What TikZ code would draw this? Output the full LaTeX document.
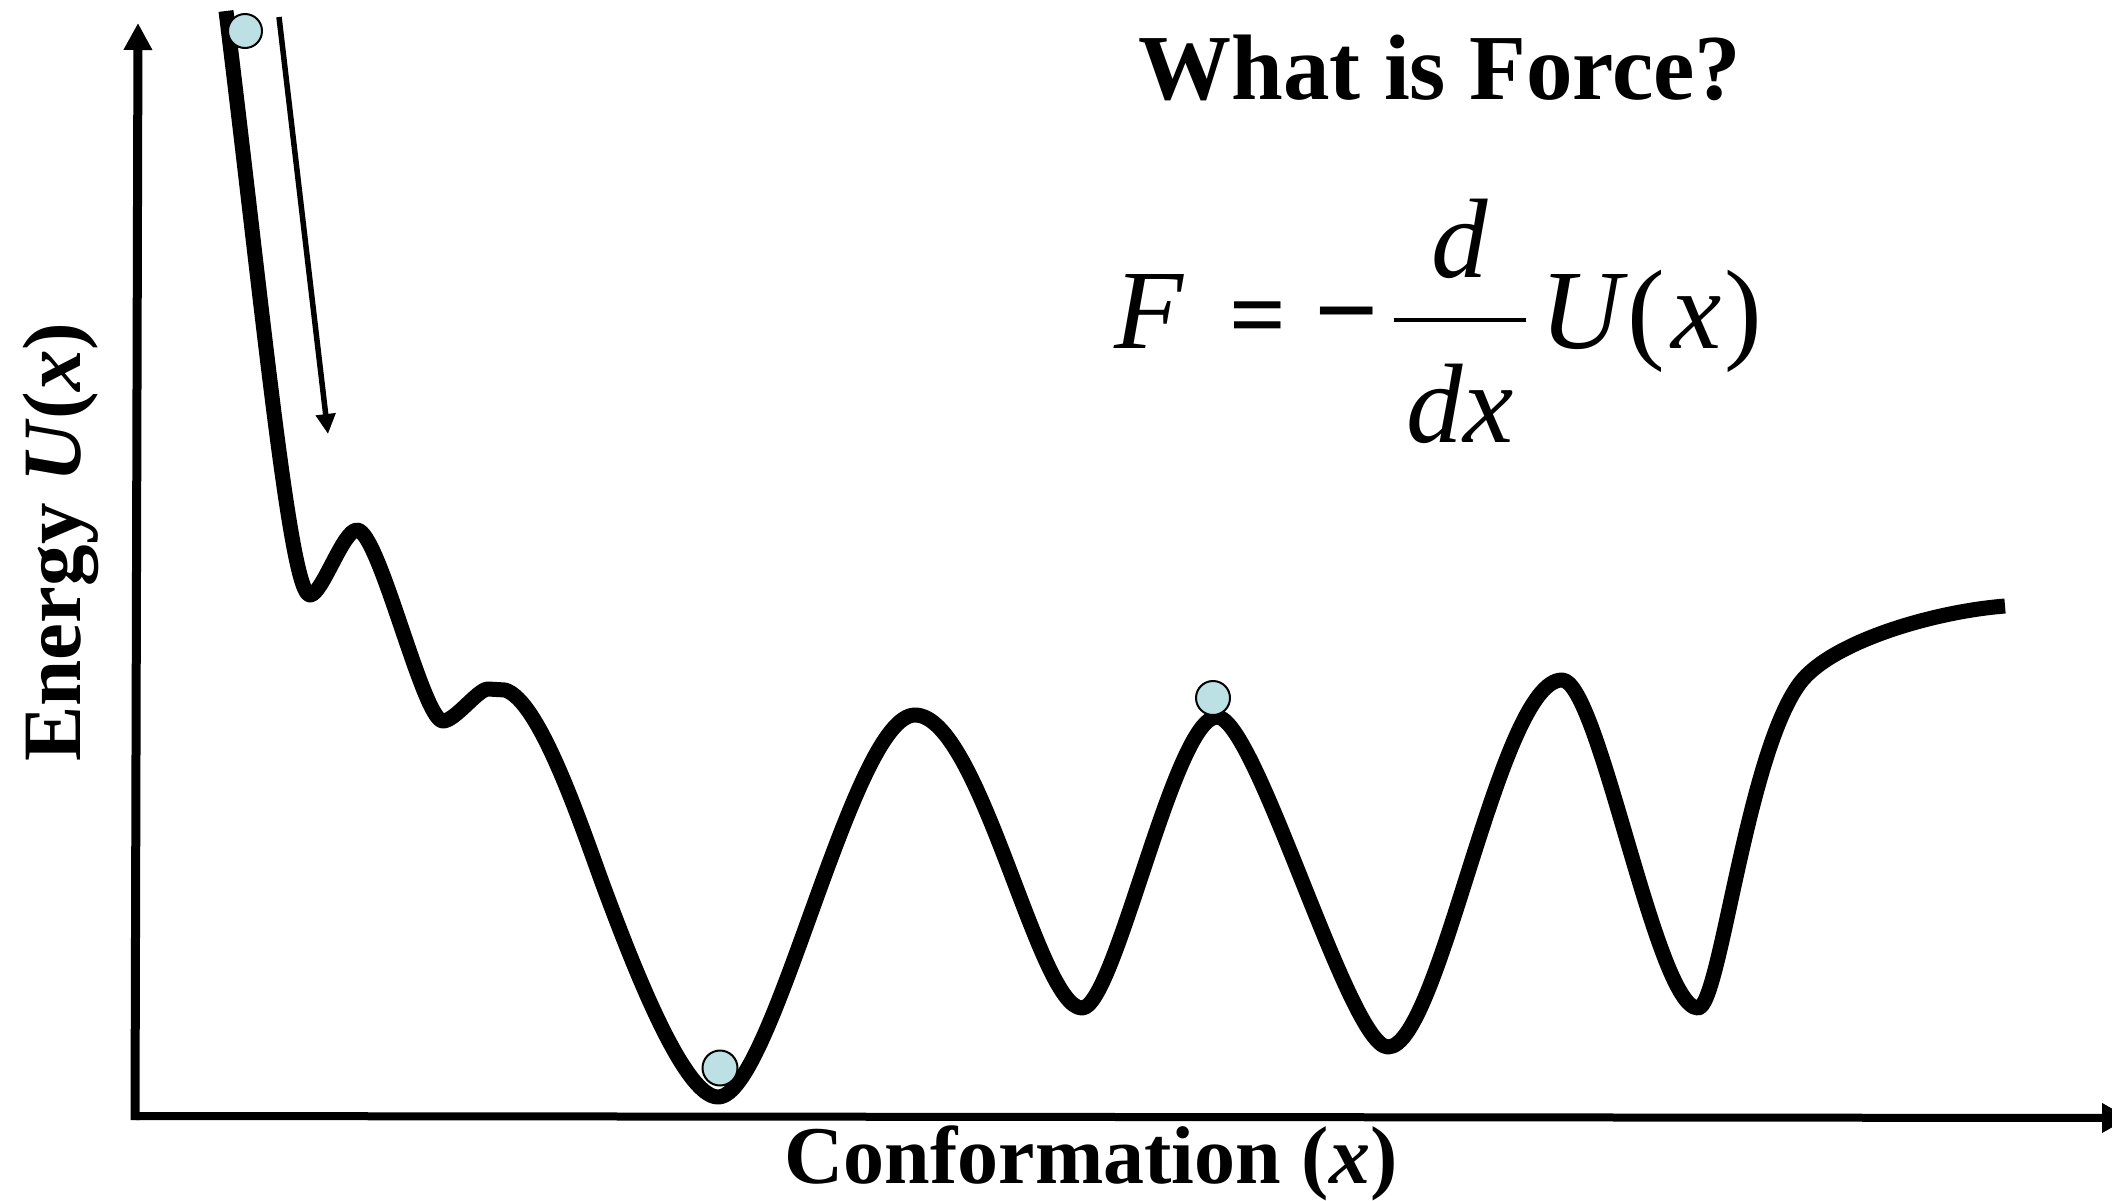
\documentclass[tikz,border=0pt]{standalone}
\usepackage{fontspec}
\setmainfont{Liberation Serif}
\usetikzlibrary{arrows.meta}
\definecolor{ballblue}{RGB}{188,224,227}
\newcommand\myfs[1]{\fontsize{#1pt}{#1pt}\selectfont}
\begin{document}
\begin{tikzpicture}[x=1pt,y=-1pt,
  lbl/.style={inner sep=0pt, outer sep=0pt},
  ball/.style={circle, draw=black, line width=2pt, fill=ballblue, inner sep=0pt, minimum size=34pt},
  curveline/.style={line width=15pt, line join=round}]
\useasboundingbox (0,0) rectangle (2112,1200);
\fill[white] (0,0) rectangle (2112,1200);

% axes
\coordinate (yo) at (135,1120);
\coordinate (ytop) at (138,23);
\coordinate (xo) at (136,1116);
\coordinate (xend) at (2129,1118);
\draw[line width=9pt, -{Triangle[width=27pt,length=27pt]}] (yo) -- (ytop);
\draw[line width=8pt, -{Triangle[width=28pt,length=27pt]}] (xo) -- (xend);

% energy curve
\draw[curveline] (226,11)
  .. controls (263,311) and (290,595) .. (310,595)
  .. controls (322,595) and (343,530) .. (357,530)
  .. controls (379,530) and (423,721) .. (443,721)
  .. controls (455,721) and (478,689) .. (488,689)
  -- (505,690)
  .. controls (539,700) and (579,819) .. (603,885)
  .. controls (631,960) and (683,1097) .. (718,1097)
  .. controls (773,1097) and (852,715) .. (915,715)
  .. controls (980,715) and (1038,1008) .. (1082,1008)
  .. controls (1115,1008) and (1174,717) .. (1217,717)
  .. controls (1256,717) and (1349,1047) .. (1388,1047)
  .. controls (1440,1047) and (1499,680) .. (1562,680)
  .. controls (1599,680) and (1656,1008) .. (1698,1008)
  .. controls (1720,1008) and (1746,755) .. (1800,683)
  .. controls (1830,643) and (1930,612) .. (2005,606);

% thin arrow
\coordinate (a1) at (279,17);
\coordinate (a2) at (328,434);
\draw[line width=5.5pt, -{Triangle[width=19pt,length=20pt]}] (a1) -- (a2);

% balls
\node[ball] (b1) at (245,31) {};
\node[ball, minimum size=35pt] (b2) at (720,1068) {};
\node[ball] (b3) at (1213,698) {};

% texts
\node[lbl, anchor=base] (title) at (1440,99) {\myfs{93}\bfseries What is Force?};
\node[lbl, anchor=base, rotate=90] (ylab) at (80,542) {\myfs{83}\bfseries Energy \textit{U}(\textit{x})};
\node[lbl, anchor=base] (xlab) at (1091,1183) {\myfs{82}\bfseries Conformation (\textit{x})};

% formula
\node[lbl, anchor=base west] (F) at (1114,348) {\myfs{113}\itshape F};
\node[lbl, anchor=base] (eq) at (1258,348) {\myfs{100}\bfseries =};
\node[lbl, anchor=base] (minus) at (1347,348) {\myfs{113}\bfseries −};
\coordinate (fb1) at (1394,320);
\coordinate (fb2) at (1526,320);
\draw[line width=3.5pt] (fb1) -- (fb2);
\node[lbl, anchor=base] (num) at (1460,277) {\myfs{113}\itshape d};
\node[lbl, anchor=base] (den) at (1460,442) {\myfs{113}\itshape dx};
\node[lbl, anchor=base west] (Ux) at (1540,348) {\myfs{113}\textit{U}(\hspace{6pt}\textit{x}\hspace{3pt})};
\end{tikzpicture}
\end{document}
